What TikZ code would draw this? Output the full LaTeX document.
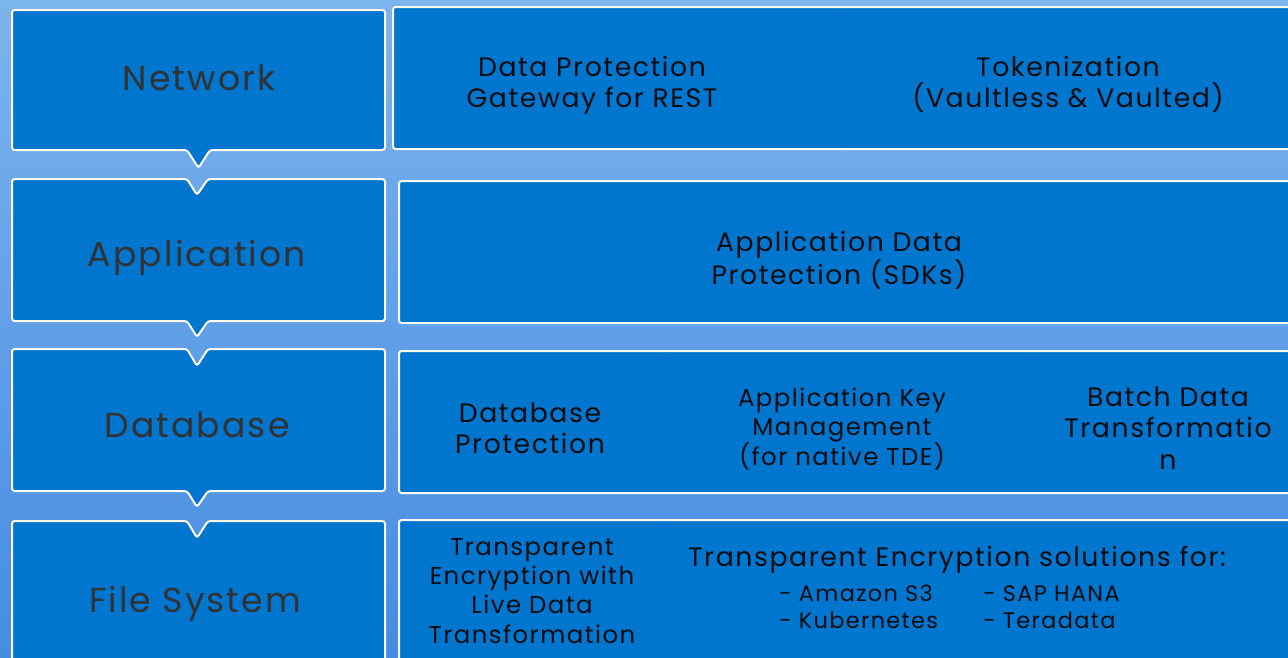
\documentclass[tikz,border=0pt]{standalone}
\usepackage{fontspec}
\setmainfont{Poppins}[LetterSpace=6]
\usetikzlibrary{positioning}

\definecolor{tilefill}{RGB}{0,118,206}
\definecolor{tileedge}{RGB}{255,250,236}
\definecolor{seam}{RGB}{6,112,197}
\definecolor{bgtop}{RGB}{124,180,237}
\definecolor{bgbot}{RGB}{70,140,226}
\definecolor{layertext}{RGB}{50,50,52}
\definecolor{itemtext}{RGB}{12,12,16}

\tikzset{
  tile/.style={fill=tilefill, draw=tileedge, line width=1.5pt, rounded corners=2pt},
  layerlabel/.style={text=layertext, font=\fontsize{26}{30}\selectfont},
  item/.style={align=center, text=itemtext, font=\fontsize{20}{23.5}\selectfont},
  smallitem/.style={align=center, text=itemtext, font=\fontsize{18.3}{21.8}\selectfont},
  listitem/.style={text=itemtext, font=\fontsize{16.8}{20}\selectfont, inner sep=0pt},
}

\begin{document}
\begin{tikzpicture}[x=0.75pt,y=-0.75pt]
  \useasboundingbox (0,0) rectangle (1288,657);
  \clip (0,0) rectangle (1288,657);
  \shade[top color=bgtop, bottom color=bgbot] (0,0) rectangle (1288,657);

  % layer boxes on the left, joined by the little pointers
  \draw[tile] (12,10) -- (385,10) -- (385,150) -- (210,150) -- (198.5,168)
     -- (187,150) -- (12,150) -- cycle;
  \draw[tile] (12,179) -- (187,179) -- (197,195) -- (208,179) -- (385,179)
     -- (385,321) -- (208,321) -- (197,337) -- (187,321) -- (12,321) -- cycle;
  \draw[tile] (12,349) -- (187,349) -- (197,366) -- (208,349) -- (385,349)
     -- (385,491) -- (208,491) -- (197,507) -- (187,491) -- (12,491) -- cycle;
  \draw[tile] (12,521) -- (187,521) -- (197,538) -- (208,521) -- (385,521)
     -- (385,690) -- (12,690) -- cycle;

  \node[layerlabel] (network)     at (199,78)  {Network};
  \node[layerlabel] (application) at (197,258) {Application};
  \node[layerlabel] (database)    at (197,425) {Database};
  \node[layerlabel] (filesystem)  at (195,604) {File System};

  % product rows on the right
  \draw[tile] (393,7)   rectangle (1310,149);
  \draw[tile] (399,181) rectangle (1310,323);
  \draw[tile] (399,351) rectangle (1310,493);
  \draw[tile] (399,520) rectangle (1310,690);
  \draw[seam] (840,9) -- (840,147);
  \draw[seam] (665,353) -- (665,491);
  \draw[seam] (1024,353) -- (1024,491);
  \draw[seam] (668,522) -- (668,690);

  \node[item] (gateway) at (592,85) {Data Protection\\Gateway for REST};
  \node[item] (tokens)  at (1068,84) {Tokenization\\(Vaultless \& Vaulted)};
  \node[item] (appsdk)  at (839,260) {Application Data\\Protection (SDKs)};
  \node[item] (dbprot)  at (530,428) {Database\\Protection};
  \node[smallitem] (appkey) at (842,429) {Application Key\\Management\\(for native TDE)};
  \node[item] (batch)   at (1168,428) {Batch Data\\Transformatio\\n};
  \node[smallitem] (livedata) at (532,591)
    {Transparent\\Encryption with\\Live Data\\Transformation};

  \node[item, anchor=base] (tesol) at (957,566)
    {Transparent Encryption solutions for:};
  \node[listitem, anchor=base west] (s3)   at (779,601) {- Amazon S3};
  \node[listitem, anchor=base west] (kube) at (779,628) {- Kubernetes};
  \node[listitem, anchor=base west] (hana) at (983,601) {- SAP HANA};
  \node[listitem, anchor=base west] (tera) at (983,628) {- Teradata};
\end{tikzpicture}
\end{document}
